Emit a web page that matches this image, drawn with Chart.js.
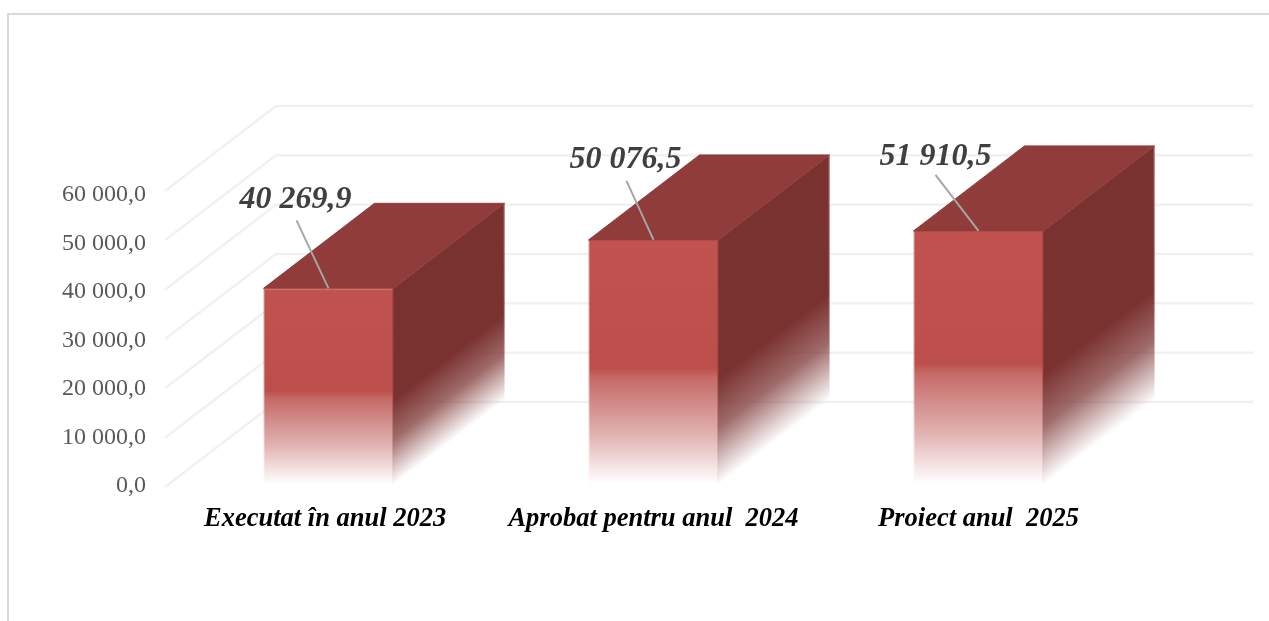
<!DOCTYPE html>
<html>
<head>
<meta charset="utf-8">
<style>
    html, body { margin: 0; padding: 0; background: #fff; }
    canvas { display: block; }
</style>
<script src="https://cdn.jsdelivr.net/npm/chart.js@4"></script>
</head>
<body>
<canvas id="budget-chart" width="1269" height="621"></canvas>
<script>
const categories = ['Executat în anul 2023 ', 'Aprobat pentru anul  2024', 'Proiect anul  2025'];
const amounts = [40269.9, 50076.5, 51910.5];
const amountLabels = ['40 269,9', '50 076,5', '51 910,5'];
const gridValues = [0, 10000, 20000, 30000, 40000, 50000, 60000];
const yTickLabels = ['0,0', '10 000,0', '20 000,0', '30 000,0', '40 000,0', '50 000,0', '60 000,0'];

// the 3D look: how far the back wall sits from the front plane
const DEPTH_X = 111;
const DEPTH_Y = 85;
const SERIF = '"Liberation Serif", serif';

// label placement and leader start, relative to bar centre / top
const labelOffsets = [
    { x: -33, y: -89, lineX: -32, lineY: -68 },
    { x: -28, y: -80, lineX: -27, lineY: -59 },
    { x: -43, y: -74, lineX: -43, lineY: -56 }
];

function frontGradient(ctx, top, bottom) {
    const g = ctx.createLinearGradient(0, top, 0, bottom);
    g.addColorStop(0, '#C0524F');
    g.addColorStop(0.52, '#BC4F4B');
    g.addColorStop(0.56, '#C56A67');
    g.addColorStop(0.8, '#E2B5B3');
    g.addColorStop(0.99, '#FFFFFF');
    return g;
}

function edgeGradient(ctx, top, bottom) {
    const g = ctx.createLinearGradient(0, top, 0, bottom);
    g.addColorStop(0, 'rgba(180,74,70,1)');
    g.addColorStop(0.55, 'rgba(185,80,76,0.9)');
    g.addColorStop(1, 'rgba(215,130,128,0.05)');
    return g;
}

const wallsPlugin = {
    id: 'walls',
    beforeDraw(chart) {
        const ctx = chart.ctx;
        ctx.save();
        ctx.fillStyle = '#D9D9D9';
        ctx.fillRect(7, 13, 1262, 2);
        ctx.fillRect(7, 13, 2, 608);
        ctx.restore();
    },
    beforeDatasetsDraw(chart) {
        const ctx = chart.ctx;
        const y = chart.scales.marks;
        const left = chart.scales.x.left;

        ctx.save();
        ctx.strokeStyle = '#F1F1F1';
        ctx.lineWidth = 2.5;
        gridValues.forEach(v => {
            const py = y.getPixelForValue(v);
            ctx.beginPath();
            ctx.moveTo(left - 1, py);
            ctx.lineTo(left - 1 + DEPTH_X, py - DEPTH_Y);
            ctx.lineTo(1253, py - DEPTH_Y);
            ctx.stroke();
        });
        ctx.restore();

        chart.getDatasetMeta(0).data.forEach(bar => {
            const x0 = bar.x - bar.width / 2;
            const x1 = bar.x + bar.width / 2;
            const top = bar.y;
            const h = bar.base - bar.y;

            // side face, sheared so the fade follows the depth direction
            // starts a little behind the front face so no seam shows
            ctx.save();
            ctx.transform(1, -DEPTH_Y / DEPTH_X, 0, 1, x1, 0);
            const g = ctx.createLinearGradient(0, top, 0, top + h);
            g.addColorStop(0, '#7A3230');
            g.addColorStop(0.56, '#7A3230');
            g.addColorStop(0.76, 'rgba(122,50,48,0.72)');
            g.addColorStop(0.99, 'rgba(122,50,48,0)');
            ctx.fillStyle = g;
            ctx.fillRect(-2, top, DEPTH_X + 2, h);
            const edge = ctx.createLinearGradient(0, top, 0, top + h);
            edge.addColorStop(0, 'rgba(200,120,118,0.7)');
            edge.addColorStop(1, 'rgba(200,120,118,0)');
            ctx.fillStyle = edge;
            ctx.fillRect(DEPTH_X - 1, top, 1, h);
            ctx.restore();

            // top face, stroked in its own colour to close the seams
            ctx.save();
            ctx.fillStyle = '#8F3C3A';
            ctx.strokeStyle = '#8F3C3A';
            ctx.lineWidth = 1;
            ctx.beginPath();
            ctx.moveTo(x0, top);
            ctx.lineTo(x0 + DEPTH_X, top - DEPTH_Y);
            ctx.lineTo(x1 + DEPTH_X, top - DEPTH_Y);
            ctx.lineTo(x1, top);
            ctx.closePath();
            ctx.fill();
            ctx.stroke();
            ctx.restore();
        });
    },
    afterDatasetsDraw(chart) {
        const ctx = chart.ctx;
        chart.getDatasetMeta(0).data.forEach((bar, i) => {
            const o = labelOffsets[i];
            ctx.save();
            ctx.strokeStyle = '#A6A6A6';
            ctx.lineWidth = 2;
            ctx.beginPath();
            ctx.moveTo(bar.x + o.lineX, bar.y + o.lineY);
            ctx.lineTo(bar.x, bar.y);
            ctx.stroke();
            ctx.fillStyle = '#404040';
            ctx.font = 'italic bold 32px ' + SERIF;
            ctx.textAlign = 'center';
            ctx.textBaseline = 'middle';
            ctx.fillText(amountLabels[i], bar.x + o.x, bar.y + o.y);
            ctx.restore();
        });
    }
};

new Chart(document.getElementById('budget-chart').getContext('2d'), {
    type: 'bar',
    data: {
        labels: categories,
        datasets: [{
            data: amounts,
            yAxisID: 'marks',
            clip: false,
            barPercentage: 0.4,
            categoryPercentage: 1,
            borderWidth: { left: 1, right: 1, top: 1, bottom: 0 },
            backgroundColor: function(context) {
                const chart = context.chart;
                if (!chart.chartArea || context.raw === undefined) return '#C0524F';
                return frontGradient(chart.ctx, chart.scales.marks.getPixelForValue(context.raw), chart.chartArea.bottom);
            },
            borderColor: function(context) {
                const chart = context.chart;
                if (!chart.chartArea || context.raw === undefined) return '#B44A46';
                return edgeGradient(chart.ctx, chart.scales.marks.getPixelForValue(context.raw), chart.chartArea.bottom);
            }
        }]
    },
    options: {
        responsive: false,
        animation: false,
        layout: { padding: { left: 0, right: 128, top: 195, bottom: 0 } },
        plugins: {
            legend: { display: false },
            tooltip: { enabled: false }
        },
        scales: {
            x: {
                afterFit: scale => { scale.height = 135; },
                border: { display: false },
                grid: { display: false },
                ticks: {
                    color: '#000000',
                    maxRotation: 0,
                    autoSkip: false,
                    padding: 9,
                    font: { family: SERIF, size: 26.5, style: 'italic', weight: 'bold' }
                }
            },
            // labelled axis: its labels run on a slightly tighter pitch than the walls
            y: {
                min: 0,
                max: 60000,
                afterFit: scale => { scale.width = 166; },
                border: { display: false },
                grid: { display: false },
                ticks: {
                    stepSize: 10000,
                    padding: 12,
                    color: '#595959',
                    font: { family: SERIF, size: 24 },
                    callback: (value, index) => yTickLabels[index]
                }
            },
            // axis the marks are drawn on, zero sits at the wall floor
            marks: {
                display: false,
                min: 203,
                max: 59189
            }
        }
    },
    plugins: [wallsPlugin]
});
</script>
</body>
</html>
